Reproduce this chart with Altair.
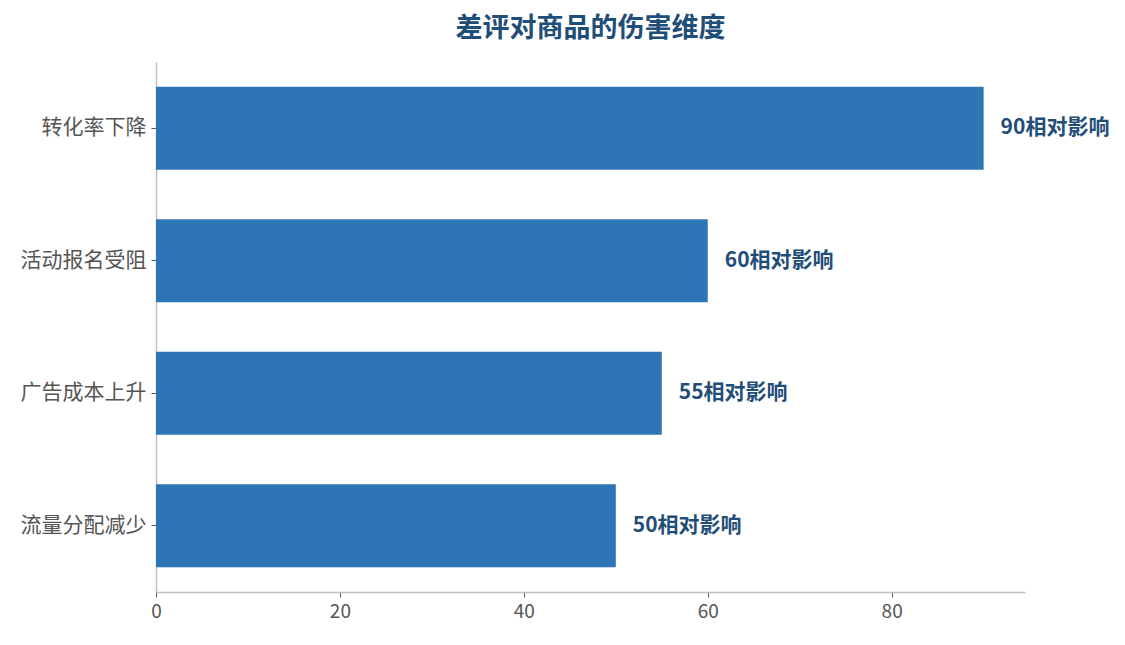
import altair as alt
import pandas as pd

categories = ["转化率下降", "活动报名受阻", "广告成本上升", "流量分配减少"]
values = [90, 60, 55, 50]
label_suffix = "相对影响"

df = pd.DataFrame({"cat": categories, "val": values})
df["label"] = [f"{v}{label_suffix}" for v in values]

FONT = "Noto Sans CJK SC"

base = alt.Chart(df).encode(
    y=alt.Y("cat:N", sort=categories, title=None,
            scale=alt.Scale(paddingInner=0.375, paddingOuter=0.1875),
            axis=alt.Axis(domainColor="#c0c0c0", domainWidth=1.5, tickColor="#555555",
                          tickSize=5, labelFont=FONT, labelFontSize=21, labelColor="#555555",
                          labelPadding=5)),
)

bars = base.mark_bar(color="#2E75B6").encode(
    x=alt.X("val:Q", title=None, scale=alt.Scale(domain=[0, 94.5], nice=False),
            axis=alt.Axis(values=[0, 20, 40, 60, 80], grid=False, domainColor="#c0c0c0",
                          domainWidth=1.5, tickColor="#555555", tickSize=5,
                          labelFont=FONT, labelFontSize=19, labelColor="#555555",
                          labelPadding=5, labelFlush=False)),
)

text = base.mark_text(align="left", baseline="middle", dx=17, font=FONT,
                      fontSize=21, fontWeight="bold", color="#1F4E79").encode(
    x=alt.X("val:Q"),
    text="label:N",
)

chart = (bars + text).properties(
    width=869, height=530,
    title=alt.TitleParams("差评对商品的伤害维度", font=FONT, fontSize=27, fontWeight="bold",
                          color="#1F4E79", anchor="middle", offset=19),
    autosize=alt.AutoSizeParams(type="none"),
    padding={"left": 148, "top": 54, "right": 90, "bottom": 40},
).configure_view(stroke=None)

chart.save("out.html", embed_options={"renderer": "svg", "actions": False})
